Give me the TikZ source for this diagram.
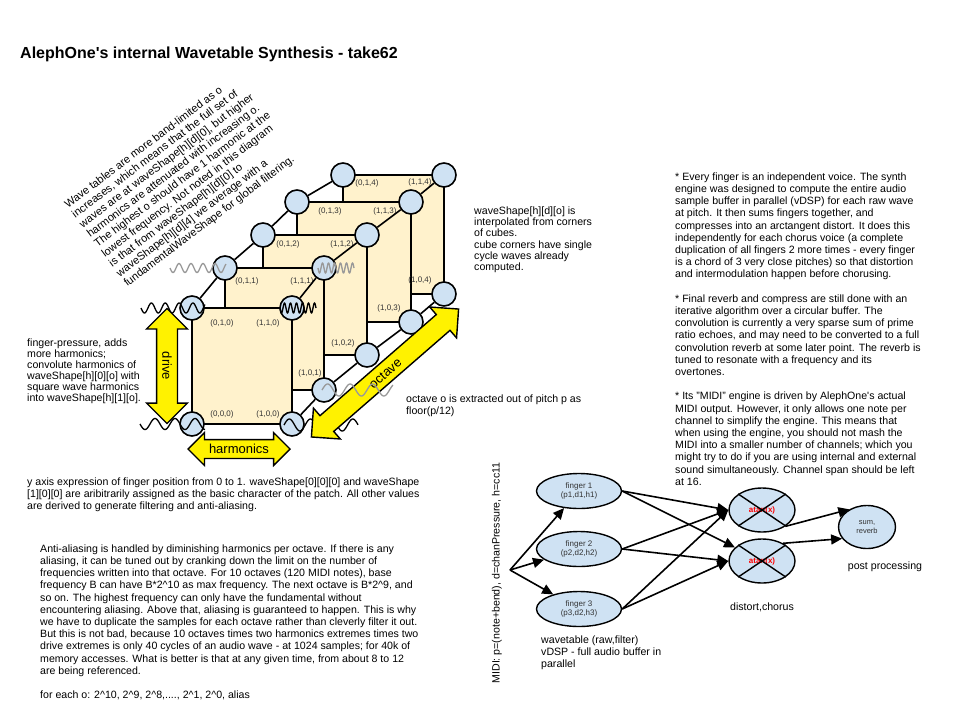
\documentclass[tikz,border=0pt]{standalone}
\usepackage{fontspec}
\setmainfont{Liberation Sans}
\usepackage{tikz}
\usetikzlibrary{arrows.meta,shapes.geometric,shapes.arrows}
\definecolor{cream}{HTML}{FFF2CC}
\definecolor{paleblue}{HTML}{CFE2F3}
\definecolor{darktext}{HTML}{333333}
\definecolor{wavegray}{HTML}{999999}
\newcommand{\caret}{\textasciicircum}
\newcommand{\apos}{\textquotesingle}

\begin{document}
\begin{tikzpicture}[x=1pt,y=-1pt,face/.style={draw=black,fill=cream,line width=1.6pt},corner/.style={circle,draw=black,fill=paleblue,line width=1.6pt,minimum size=24pt,inner sep=0pt},cubeedge/.style={draw=black,line width=1.6pt},tag/.style={font=\fontsize{8}{8}\selectfont,text=darktext,inner sep=0pt},wave/.style={line width=1.3pt,draw=black},ghost/.style={line width=1.3pt,draw=wavegray},yarrow/.style={double arrow,draw=black,fill=yellow,line width=1.4pt,font=\fontsize{13}{13}\selectfont,text height=9.5pt,text depth=0pt,inner xsep=0pt,inner ysep=5pt,double arrow head extend=10pt,double arrow tip angle=90},note/.style={align=left,anchor=north west,inner sep=0pt,font=\fontsize{10.6}{12.2}\selectfont},stage/.style={ellipse,draw=black,fill=paleblue,line width=1.4pt,inner sep=0pt,font=\fontsize{8}{9.5}\selectfont,text=darktext,align=center},edge/.style={-{Triangle[length=11pt,width=10pt]},draw=black,line width=1.6pt}]
\fill[white] (0,0) rectangle (960,720);
\useasboundingbox (0,0) rectangle (960,720);
\node[anchor=north west,inner sep=0pt,font=\fontsize{16}{16}\selectfont\bfseries] (title) at (20,46.5) {AlephOne\apos s internal Wavetable Synthesis - take62};
\filldraw[face] (343,175) rectangle (444,294);
\filldraw[face] (297,202) rectangle (411,322);
\filldraw[face] (263,235) rectangle (367,355);
\filldraw[face] (225,268) rectangle (324,390);
\filldraw[face] (192,308) rectangle (292,424);
\node[tag] (t010) at (222,323) {(0,1,0)};
\node[tag] (t110) at (268,323) {(1,1,0)};
\node[tag] (t000) at (222,414) {(0,0,0)};
\node[tag] (t100) at (268,414) {(1,0,0)};
\node[tag] (t011) at (247,281) {(0,1,1)};
\node[tag] (t111) at (302,281) {(1,1,1)};
\node[tag] (t101) at (310,373) {(1,0,1)};
\node[tag] (t012) at (288,244) {(0,1,2)};
\node[tag] (t112) at (342,244) {(1,1,2)};
\node[tag] (t102) at (343,343) {(1,0,2)};
\node[tag] (t013) at (330,211) {(0,1,3)};
\node[tag] (t113) at (385,211) {(1,1,3)};
\node[tag] (t103) at (389,308) {(1,0,3)};
\node[tag] (t014) at (367,183) {(0,1,4)};
\node[tag] (t114) at (420,182) {(1,1,4)};
\node[tag] (t104) at (420,280) {(1,0,4)};
\node[corner] (c010) at (192,308) {};
\node[corner] (c110) at (292,308) {};
\node[corner] (c000) at (192,424) {};
\node[corner] (c100) at (292,424) {};
\node[corner] (c011) at (225,268) {};
\node[corner] (c111) at (324,268) {};
\node[corner] (c101) at (324,390) {};
\node[corner] (c012) at (263,235) {};
\node[corner] (c112) at (367,235) {};
\node[corner] (c102) at (367,355) {};
\node[corner] (c013) at (297,202) {};
\node[corner] (c113) at (411,202) {};
\node[corner] (c103) at (411,322) {};
\node[corner] (c014) at (343,175) {};
\node[corner] (c114) at (444,175) {};
\node[corner] (c104) at (444,294) {};
\draw[cubeedge] (c010) -- (c011) -- (c012) -- (c013) -- (c014);
\draw[cubeedge] (c110) -- (c111) -- (c112) -- (c113) -- (c114);
\draw[cubeedge] (c100) -- (c101) -- (c102) -- (c103) -- (c104);
\draw[wave] plot[domain=140:205,samples=90] (\x,{424+5.5*sin(18*(\x-140))});
\draw[wave] plot[domain=141:205,samples=110] (\x,{308+5*sin(26*(\x-141))});
\draw[wave] plot[domain=280:316,samples=120] (\x,{308+5*sin(60*(\x-280))});
\draw[wave] plot[domain=284:358,samples=90] (\x,{425-6*sin(17*(\x-284))});
\draw[ghost] plot[domain=170:226,samples=90] (\x,{268+4.5*sin(30*(\x-170))});
\draw[ghost] plot[domain=318:354,samples=120] (\x,{268+5*sin(60*(\x-318))});
\node[yarrow,minimum height=115pt,rotate=-90] (drivearrow) at (167,366) {drive};
\node[yarrow,minimum height=102pt,inner ysep=4pt,double arrow head extend=7pt] (harmarrow) at (239,449) {harmonics};
\node[yarrow,minimum height=195pt,rotate=41] (octarrow) at (385,373) {octave};
\draw[ghost] plot[domain=322:393,samples=90] (\x,{390-6*sin(16*(\x-322))});
\node[note,rotate=37,font=\fontsize{11}{12.3}\selectfont] (bandnote) at (63,202) {Wave tables are more band-limited as o\\increases, which means that the full set of\\waves are at waveShape[h][d][0], but higher\\harmonics are attenuated with increasing o.\\The highest o should have 1 harmonic at the\\lowest frequency.  Not noted in this diagram\\is that from waveShape[h][d][0] to\\waveShape[h][d][4] we average with a\\fundamentalWaveShape for global filtering.};
\node[note,font=\fontsize{10.6}{11}\selectfont] (drivenote) at (27,338.5) {finger-pressure, adds\\more harmonics;\\convolute harmonics of\\waveShape[h][0][o] with\\square wave harmonics\\into waveShape[h][1][o].};
\node[note,font=\fontsize{10.6}{11.3}\selectfont] (cubenote) at (474,206.5) {waveShape[h][d][o] is\\interpolated from corners\\of cubes.\\cube corners have single\\cycle waves already\\computed.};
\node[note] (octnote) at (406,394.5) {octave o is extracted out of pitch p as\\floor(p/12)};
\node[note] (voicenote) at (675,172.5) {* Every finger is an independent voice.  The synth\\engine was designed to compute the entire audio\\sample buffer in parallel (vDSP) for each raw wave\\at pitch.  It then sums fingers together, and\\compresses into an arctangent distort.  It does this\\independently for each chorus voice (a complete\\duplication of all fingers 2 more times - every finger\\is a chord of 3 very close pitches) so that distortion\\and intermodulation happen before chorusing.\\[12.2pt]* Final reverb and compress are still done with an\\iterative algorithm over a circular buffer.  The\\convolution is currently a very sparse sum of prime\\ratio echoes, and may need to be converted to a full\\convolution reverb at some later point.  The reverb is\\tuned to resonate with a frequency and its\\overtones.\\[12.2pt]* Its "MIDI" engine is driven by AlephOne\apos s actual\\MIDI output.  However, it only allows one note per\\channel to simplify the engine.  This means that\\when using the engine, you should not mash the\\MIDI into a smaller number of channels; which you\\might try to do if you are using internal and external\\sound simultaneously.  Channel span should be left\\at 16.};
\node[note] (axisnote) at (27,477.5) {y axis expression of finger position from 0 to 1.  waveShape[0][0][0] and waveShape\\{}[1][0][0] are aribitrarily assigned as the basic character of the patch.  All other values\\are derived to generate filtering and anti-aliasing.};
\node[note] (aliasnote) at (40,544.5) {Anti-aliasing is handled by diminishing harmonics per octave.  If there is any\\aliasing, it can be tuned out by cranking down the limit on the number of\\frequencies written into that octave.  For 10 octaves (120 MIDI notes), base\\frequency B  can have B*2\caret10 as max frequency.  The next octave is B*2\caret9, and\\so on.  The highest frequency can only have the fundamental without\\encountering aliasing.  Above that, aliasing is guaranteed to happen.  This is why\\we have to duplicate the samples for each octave rather than cleverly filter it out.\\But this is not bad, because 10 octaves times two harmonics extremes times two\\drive extremes is only 40 cycles of an audio wave - at 1024 samples; for 40k of\\memory accesses.  What is better is that at any given time, from about 8 to 12\\are being referenced.\\[12.2pt]for each o: 2\caret10, 2\caret9, 2\caret8,...., 2\caret1, 2\caret0, alias};
\node[rotate=90,inner sep=0pt,font=\fontsize{10.6}{12}\selectfont] (midinote) at (497,573) {MIDI: p=(note+bend), d=chanPressure, h=cc11};
\coordinate (midi) at (510,570);
\node[stage,minimum width=85pt,minimum height=35pt] (f1) at (579,491) {finger 1\\(p1,d1,h1)};
\node[stage,minimum width=85pt,minimum height=35pt] (f2) at (579,549) {finger 2\\(p2,d2,h2)};
\node[stage,minimum width=85pt,minimum height=35pt] (f3) at (579,609) {finger 3\\(p3,d2,h3)};
\node[stage,minimum width=66pt,minimum height=44pt,text=red,font=\fontsize{8}{8}\selectfont\bfseries] (a1) at (762,510) {atan(x)};
\node[stage,minimum width=66pt,minimum height=44pt,text=red,font=\fontsize{8}{8}\selectfont\bfseries] (a2) at (762,561) {atan(x)};
\node[stage,minimum width=57pt,minimum height=43pt,font=\fontsize{7.5}{9}\selectfont] (sum) at (867,527) {sum,\\reverb};
\draw[line width=1.4pt] (a1.north west) -- (a1.south east) (a1.north east) -- (a1.south west);
\draw[line width=1.4pt] (a2.north west) -- (a2.south east) (a2.north east) -- (a2.south west);
\draw[edge] (midi) -- (f1);
\draw[edge] (midi) -- (f2);
\draw[edge] (midi) -- (f3);
\draw[edge] (f1.east) -- (a1.west);
\draw[edge] (f1.east) -- (a2);
\draw[edge] (f2.east) -- (a1.west);
\draw[edge] (f2.east) -- (a2.west);
\draw[edge] (f3.east) -- (a1.west);
\draw[edge] (f3.east) -- (a2.west);
\draw[edge] (a1.-35) -- (sum.135);
\draw[edge] (a2.40) -- (sum.205);
\node[note] (wtnote) at (541,635.5) {wavetable (raw,filter)\\vDSP - full audio buffer in\\parallel};
\node[inner sep=0pt,font=\fontsize{10.6}{12}\selectfont] (distnote) at (762,607) {distort,chorus};
\node[inner sep=0pt,font=\fontsize{10.6}{12}\selectfont] (postnote) at (885,567) {post processing};
\end{tikzpicture}
\end{document}
